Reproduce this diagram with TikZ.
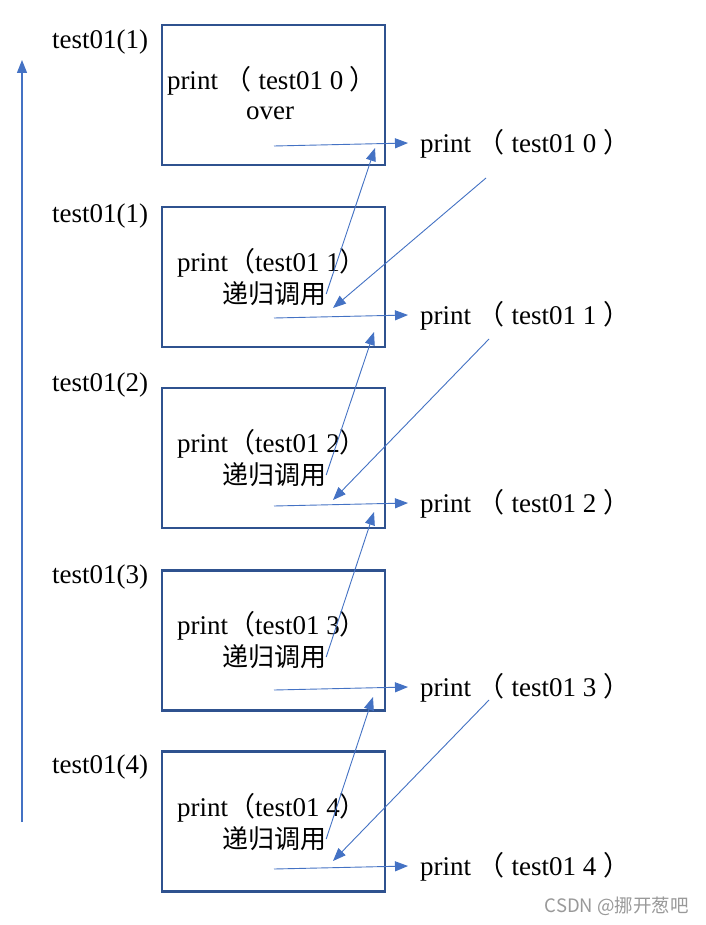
\documentclass[tikz,border=0pt]{standalone}
\usepackage{fontspec}
\setmainfont{Liberation Serif}
\newfontfamily\cjk{Noto Sans CJK SC}
\usetikzlibrary{arrows.meta}
\definecolor{boxblue}{HTML}{2F528F}
\definecolor{arrblue}{HTML}{4472C4}
\newcommand{\lp}{{\cjk （}}
\newcommand{\rp}{{\cjk ）}}
\begin{document}
\begin{tikzpicture}[x=1pt,y=-1pt,
 frame/.style={draw=boxblue,line width=2.2pt,minimum width=223pt,minimum height=140pt,inner sep=0pt},
 txt/.style={inner sep=0pt,font=\fontsize{27}{31}\selectfont},
 ctxt/.style={inner sep=0pt,font=\cjk\fontsize{26}{30}\selectfont},
 rtxt/.style={txt,anchor=west,inner xsep=12pt},
 ltxt/.style={txt,anchor=west},
 conn/.style={draw=arrblue,line width=0.9pt,-{Triangle[length=13pt,width=10pt]}},
 ]
\useasboundingbox (0,0) rectangle (705,925);
\fill[white] (0,0) rectangle (705,925);

% boxes
\node[frame] (b0) at (273.5,95) {};
\node[frame] (b1) at (273.5,277) {};
\node[frame] (b2) at (273.5,458) {};
\node[frame] (b3) at (273.5,640.5) {};
\node[frame] (b4) at (273.5,821.5) {};

% left labels
\node[ltxt] (l0) at (52,42) {test01(1)};
\node[ltxt] (l1) at (52,216) {test01(1)};
\node[ltxt] (l2) at (52,385) {test01(2)};
\node[ltxt] (l3) at (52,577) {test01(3)};
\node[ltxt] (l4) at (52,767) {test01(4)};

% box texts
\node[txt] (t0a) at (272,81) {print \lp{} test01 0 \rp};
\node[txt] (t0b) at (270,113) {over};
\node[txt] (t1a) at (272,263) {print\lp test01 1\rp};
\node[ctxt] (t1b) at (274,294) {递归调用};
\node[txt] (t2a) at (272,444) {print\lp test01 2\rp};
\node[ctxt] (t2b) at (274,475) {递归调用};
\node[txt] (t3a) at (272,626) {print\lp test01 3\rp};
\node[ctxt] (t3b) at (274,657) {递归调用};
\node[txt] (t4a) at (272,808) {print\lp test01 4\rp};
\node[ctxt] (t4b) at (274,839) {递归调用};

% right texts
\node[rtxt] (p0) at (408,144) {print \lp{} test01 0 \rp};
\node[rtxt] (p1) at (408,316) {print \lp{} test01 1 \rp};
\node[rtxt] (p2) at (408,504) {print \lp{} test01 2 \rp};
\node[rtxt] (p3) at (408,688) {print \lp{} test01 3 \rp};
\node[rtxt] (p4) at (408,867) {print \lp{} test01 4 \rp};

% horizontal arrows
\coordinate (h0) at (274,146);
\coordinate (h1) at (274,318);
\coordinate (h2) at (274,506);
\coordinate (h3) at (274,690);
\coordinate (h4) at (274,869);
\coordinate (e0) at (408,143);
\coordinate (e1) at (408,315);
\coordinate (e2) at (408,503);
\coordinate (e3) at (408,687);
\coordinate (e4) at (408,866);
\draw[conn] (h0) -- (e0);
\draw[conn] (h1) -- (e1);
\draw[conn] (h2) -- (e2);
\draw[conn] (h3) -- (e3);
\draw[conn] (h4) -- (e4);

% upward arrows
\coordinate (u0) at (375,148);
\coordinate (u1) at (374,332);
\coordinate (u2) at (374,512);
\coordinate (u3) at (373,697);
\draw[conn] (t1b.east) -- (u0);
\draw[conn] (t2b.east) -- (u1);
\draw[conn] (t3b.east) -- (u2);
\draw[conn] (t4b.east) -- (u3);

% downward arrows
\coordinate (d0s) at (486,178);
\coordinate (d0e) at (333,308);
\coordinate (d1s) at (489,339);
\coordinate (d1e) at (333,500);
\coordinate (d3s) at (489,700);
\coordinate (d3e) at (333,861);
\draw[conn] (d0s) -- (d0e);
\draw[conn] (d1s) -- (d1e);
\draw[conn] (d3s) -- (d3e);

% left vertical arrow
\coordinate (v0) at (22,822);
\coordinate (v1) at (22,60);
\draw[conn,line width=1.3pt] (v0) -- (v1);

% watermark
\node[inner sep=0pt,anchor=east,text=black!40,font=\cjk\fontsize{18.5}{22}\selectfont] (wm) at (689,906) {CSDN @挪开葱吧};
\end{tikzpicture}
\end{document}
